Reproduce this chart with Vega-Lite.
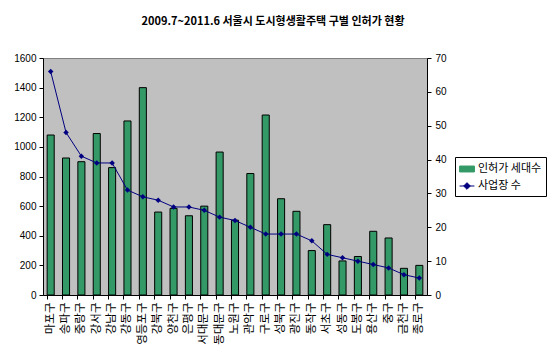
{
  "$schema": "https://vega.github.io/schema/vega-lite/v6.json",
  "width": 384,
  "height": 237,
  "autosize": "none",
  "padding": {"left": 43, "top": 58, "right": 123, "bottom": 68},
  "background": "white",
  "title": {
    "text": "2009.7~2011.6 서울시 도시형생활주택 구별 인허가 현황",
    "font": "Noto Sans CJK KR",
    "fontSize": 11,
    "fontWeight": "bold",
    "color": "black",
    "anchor": "middle",
    "offset": 26,
    "dx": 38
  },
  "config": {
    "view": {"fill": "#C0C0C0", "stroke": "#808080", "strokeWidth": 1},
    "axis": {"grid": false, "labelFont": "Liberation Sans", "labelFontSize": 10, "labelColor": "#000000", "domainColor": "#000000", "tickColor": "#000000", "tickSize": 4, "titleFontSize": 10}
  },
  "data": {
    "values": [
      {"district": "마포구", "units": 1080, "sites": 66},
      {"district": "송파구", "units": 925, "sites": 48},
      {"district": "중랑구", "units": 900, "sites": 41},
      {"district": "강서구", "units": 1090, "sites": 39},
      {"district": "강남구", "units": 860, "sites": 39},
      {"district": "강동구", "units": 1175, "sites": 31},
      {"district": "영등포구", "units": 1400, "sites": 29},
      {"district": "강북구", "units": 560, "sites": 28},
      {"district": "양천구", "units": 585, "sites": 26},
      {"district": "은평구", "units": 535, "sites": 26},
      {"district": "서대문구", "units": 600, "sites": 25},
      {"district": "동대문구", "units": 965, "sites": 23},
      {"district": "노원구", "units": 505, "sites": 22},
      {"district": "관악구", "units": 820, "sites": 20},
      {"district": "구로구", "units": 1215, "sites": 18},
      {"district": "성북구", "units": 650, "sites": 18},
      {"district": "광진구", "units": 565, "sites": 18},
      {"district": "동작구", "units": 300, "sites": 16},
      {"district": "서초구", "units": 475, "sites": 12},
      {"district": "성동구", "units": 230, "sites": 11},
      {"district": "도봉구", "units": 260, "sites": 10},
      {"district": "용산구", "units": 430, "sites": 9},
      {"district": "중구", "units": 385, "sites": 8},
      {"district": "금천구", "units": 180, "sites": 6},
      {"district": "종로구", "units": 200, "sites": 5}
    ]
  },
  "encoding": {
    "x": {
      "field": "district",
      "type": "nominal",
      "sort": null,
      "scale": {"paddingInner": 0.54, "paddingOuter": 0.27},
      "axis": {
        "title": null,
        "labelAngle": -90,
        "labelFont": "Noto Sans CJK KR",
        "labelFontSize": 11.5,
        "labelPadding": 3,
        "bandPosition": 0,
        "tickSize": 4
      }
    }
  },
  "layer": [
    {
      "mark": {"type": "bar", "stroke": "#000000", "strokeWidth": 1},
      "encoding": {
        "y": {
          "field": "units",
          "type": "quantitative",
          "scale": {"domain": [0, 1600]},
          "axis": {"title": null, "format": "d", "values": [0, 200, 400, 600, 800, 1000, 1200, 1400, 1600], "labelPadding": 3}
        },
        "color": {
          "datum": "인허가 세대수",
          "scale": {"domain": ["인허가 세대수", "사업장 수"], "range": ["#339966", "#000080"]},
          "legend": {
            "title": null,
            "orient": "none",
            "legendX": 412,
            "legendY": 99,
            "direction": "vertical",
            "strokeColor": "#000000",
            "fillColor": "#ffffff",
            "padding": 4,
            "rowPadding": 4,
            "symbolSize": 220,
            "labelFont": "Noto Sans CJK KR",
            "labelFontSize": 11,
            "labelColor": "#000000",
            "labelOffset": 3,
            "encode": {
              "symbols": {
                "update": {
                  "shape": {"signal": "datum.label === '사업장 수' ? 'M-1,0L1,0M0,-0.45L0.45,0L0,0.45L-0.45,0Z' : 'M-1,-0.4L1,-0.4L1,0.4L-1,0.4Z'"},
                  "fill": {"signal": "datum.label === '사업장 수' ? '#000080' : '#339966'"},
                  "stroke": {"signal": "datum.label === '사업장 수' ? '#000080' : '#000000'"},
                  "strokeWidth": {"value": 1},
                  "opacity": {"value": 1}
                }
              }
            }
          }
        }
      }
    },
    {
      "mark": {"type": "line", "strokeWidth": 1, "point": {"shape": "diamond", "filled": true, "size": 30, "color": "#000080"}},
      "encoding": {
        "y": {
          "field": "sites",
          "type": "quantitative",
          "scale": {"domain": [0, 70]},
          "axis": {"orient": "right", "title": null, "values": [0, 10, 20, 30, 40, 50, 60, 70], "labelPadding": 4}
        },
        "color": {
          "datum": "사업장 수",
          "legend": {
            "title": null,
            "orient": "none",
            "legendX": 412,
            "legendY": 99,
            "direction": "vertical",
            "strokeColor": "#000000",
            "fillColor": "#ffffff",
            "padding": 4,
            "rowPadding": 4,
            "symbolSize": 220,
            "labelFont": "Noto Sans CJK KR",
            "labelFontSize": 11,
            "labelColor": "#000000",
            "labelOffset": 3,
            "encode": {
              "symbols": {
                "update": {
                  "shape": {"signal": "datum.label === '사업장 수' ? 'M-1,0L1,0M0,-0.45L0.45,0L0,0.45L-0.45,0Z' : 'M-1,-0.4L1,-0.4L1,0.4L-1,0.4Z'"},
                  "fill": {"signal": "datum.label === '사업장 수' ? '#000080' : '#339966'"},
                  "stroke": {"signal": "datum.label === '사업장 수' ? '#000080' : '#000000'"},
                  "strokeWidth": {"value": 1},
                  "opacity": {"value": 1}
                }
              }
            }
          }
        }
      }
    }
  ],
  "resolve": {"scale": {"y": "independent"}}
}
